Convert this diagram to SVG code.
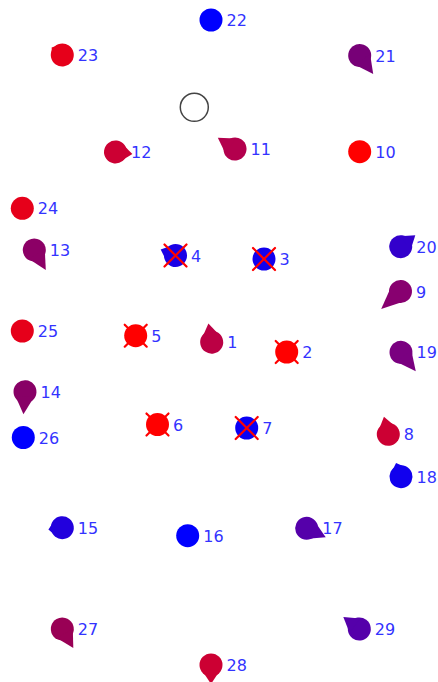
<svg xmlns="http://www.w3.org/2000/svg" width="438" height="682" viewBox="0 0 438 682">
<style>
.lbl{font-family:"DejaVu Sans",sans-serif;font-size:16px;fill:#3333ff}
.x{stroke:#ff0000;stroke-width:2.2;stroke-linecap:round}
</style>
<defs>
<circle id="dot" r="11.5"/>
<g id="cross"><line class="x" x1="-11" y1="-11" x2="11" y2="11"/><line class="x" x1="-11" y1="11" x2="11" y2="-11"/></g>
</defs>
<rect width="438" height="682" fill="#ffffff"/>
<g id="connectors"/>
<g id="empty" transform="translate(194.3,107.3)"><circle r="14" fill="#ffffff" stroke="#444444" stroke-width="1.5"/></g>

<g id="n22" transform="translate(211,20)"><use href="#dot" fill="#0000ff"/><text class="lbl" x="15.5" y="6">22</text></g>
<g id="n23" transform="translate(62.3,55)"><g transform="rotate(215)" fill="#e6001a"><use href="#dot"/><polygon points="13,0 8.48,6.19 8.48,-6.19"/></g><text class="lbl" x="15.5" y="6">23</text></g>
<g id="n21" transform="translate(359.7,55.5)"><g transform="rotate(54)" fill="#770077"><use href="#dot"/><polygon points="23,0 4.79,9.34 4.79,-9.34"/></g><text class="lbl" x="15.5" y="6">21</text></g>
<g id="n12" transform="translate(115.5,152)"><g transform="rotate(7)" fill="#cc0033"><use href="#dot"/><polygon points="17,0 6.49,8.26 6.49,-8.26"/></g><text class="lbl" x="15.5" y="6">12</text></g>
<g id="n11" transform="translate(235,149)"><g transform="rotate(213)" fill="#b3004d"><use href="#dot"/><polygon points="20.5,0 5.38,9.02 5.38,-9.02"/></g><text class="lbl" x="15.5" y="6">11</text></g>
<g id="n10" transform="translate(359.7,151.7)"><use href="#dot" fill="#ff0000"/><text class="lbl" x="15.5" y="6">10</text></g>
<g id="n24" transform="translate(22.3,208.3)"><use href="#dot" fill="#e6001a"/><text class="lbl" x="15.5" y="6">24</text></g>
<g id="n13" transform="translate(34.3,250)"><g transform="rotate(60)" fill="#8c0066"><use href="#dot"/><polygon points="23,0 4.79,9.34 4.79,-9.34"/></g><text class="lbl" x="15.5" y="6">13</text></g>
<g id="n20" transform="translate(400.7,246.7)"><g transform="rotate(-38)" fill="#3300cc"><use href="#dot"/><polygon points="18.5,0 5.96,8.65 5.96,-8.65"/></g><text class="lbl" x="15.5" y="6">20</text></g>
<g id="n4" transform="translate(175.5,255.5)"><g transform="rotate(202)" fill="#1a00e6"><use href="#dot"/><polygon points="16,0 6.89,7.92 6.89,-7.92"/></g><use href="#cross"/><text class="lbl" x="15.5" y="6">4</text></g>
<g id="n3" transform="translate(264,259)"><use href="#dot" fill="#1100ee"/><use href="#cross"/><text class="lbl" x="15.5" y="6">3</text></g>
<g id="n9" transform="translate(400.5,291.5)"><g transform="rotate(138)" fill="#880070"><use href="#dot"/><polygon points="26,0 4.24,9.61 4.24,-9.61"/></g><text class="lbl" x="15.5" y="6">9</text></g>
<g id="n25" transform="translate(22.3,331)"><use href="#dot" fill="#e6001a"/><text class="lbl" x="15.5" y="6">25</text></g>
<g id="n5" transform="translate(135.7,335.7)"><use href="#dot" fill="#ff0000"/><use href="#cross"/><text class="lbl" x="15.5" y="6">5</text></g>
<g id="n1" transform="translate(211.7,342.2)"><g transform="rotate(-100)" fill="#bb0044"><use href="#dot"/><polygon points="19,0 5.8,8.75 5.8,-8.75"/></g><text class="lbl" x="15.5" y="6">1</text></g>
<g id="n2" transform="translate(286.7,352)"><use href="#dot" fill="#ff0000"/><use href="#cross"/><text class="lbl" x="15.5" y="6">2</text></g>
<g id="n19" transform="translate(401,352.3)"><g transform="rotate(52)" fill="#7a0080"><use href="#dot"/><polygon points="24,0 4.59,9.44 4.59,-9.44"/></g><text class="lbl" x="15.5" y="6">19</text></g>
<g id="n14" transform="translate(25,391.7)"><g transform="rotate(94)" fill="#880066"><use href="#dot"/><polygon points="22.5,0 4.9,9.29 4.9,-9.29"/></g><text class="lbl" x="15.5" y="6">14</text></g>
<g id="n26" transform="translate(23.3,437.5)"><use href="#dot" fill="#0000ff"/><text class="lbl" x="15.5" y="6">26</text></g>
<g id="n6" transform="translate(157.5,424.5)"><use href="#dot" fill="#ff0000"/><use href="#cross"/><text class="lbl" x="15.5" y="6">6</text></g>
<g id="n7" transform="translate(246.7,428)"><use href="#dot" fill="#0a00f5"/><use href="#cross"/><text class="lbl" x="15.5" y="6">7</text></g>
<g id="n8" transform="translate(388.3,434.3)"><g transform="rotate(-104)" fill="#cc0033"><use href="#dot"/><polygon points="18,0 6.13,8.53 6.13,-8.53"/></g><text class="lbl" x="15.5" y="6">8</text></g>
<g id="n18" transform="translate(401,476.7)"><g transform="rotate(-110)" fill="#1100ee"><use href="#dot"/><polygon points="14.5,0 7.6,7.24 7.6,-7.24"/></g><text class="lbl" x="15.5" y="6">18</text></g>
<g id="n15" transform="translate(62.3,527.7)"><g transform="rotate(173)" fill="#2200dd"><use href="#dot"/><polygon points="14,0 7.88,6.94 7.88,-6.94"/></g><text class="lbl" x="15.5" y="6">15</text></g>
<g id="n16" transform="translate(187.7,535.7)"><use href="#dot" fill="#0000ff"/><text class="lbl" x="15.5" y="6">16</text></g>
<g id="n17" transform="translate(306.7,528.3)"><g transform="rotate(25)" fill="#5500aa"><use href="#dot"/><polygon points="21,0 5.25,9.09 5.25,-9.09"/></g><text class="lbl" x="15.5" y="6">17</text></g>
<g id="n27" transform="translate(62.3,629)"><g transform="rotate(60)" fill="#990055"><use href="#dot"/><polygon points="22,0 5.01,9.23 5.01,-9.23"/></g><text class="lbl" x="15.5" y="6">27</text></g>
<g id="n28" transform="translate(211,665)"><g transform="rotate(90)" fill="#cc0033"><use href="#dot"/><polygon points="19,0 5.8,8.75 5.8,-8.75"/></g><text class="lbl" x="15.5" y="6">28</text></g>
<g id="n29" transform="translate(359.3,629)"><g transform="rotate(217)" fill="#5500aa"><use href="#dot"/><polygon points="20,0 5.51,8.94 5.51,-8.94"/></g><text class="lbl" x="15.5" y="6">29</text></g>
</svg>
